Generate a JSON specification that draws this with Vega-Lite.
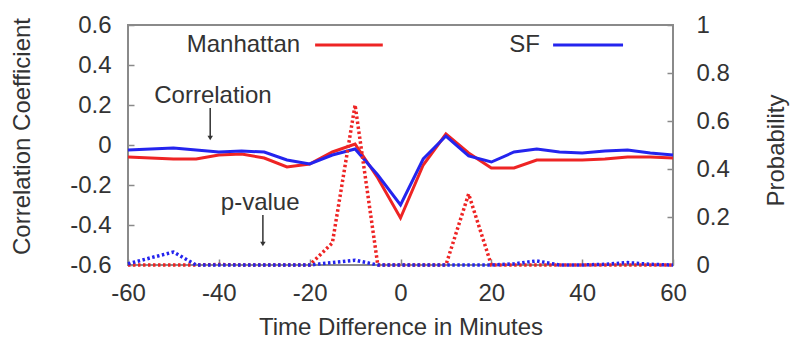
{
  "$schema": "https://vega.github.io/schema/vega-lite/v6.json",
  "width": 545,
  "height": 240,
  "autosize": {"type": "none"},
  "padding": {"left": 128, "top": 25, "right": 120, "bottom": 74},
  "background": "white",
  "config": {
    "view": {"stroke": "#8a8a8a", "strokeWidth": 2},
    "font": "Liberation Sans",
    "text": {"font": "Liberation Sans"},
    "axis": {
      "labelFont": "Liberation Sans",
      "titleFont": "Liberation Sans",
      "labelFontSize": 24,
      "titleFontSize": 24,
      "titleFontWeight": "normal",
      "labelColor": "#333333",
      "titleColor": "#333333",
      "tickColor": "#8a8a8a",
      "tickWidth": 1.5,
      "domain": false,
      "grid": false,
      "labelFlush": false
    }
  },
  "datasets": {
    "corr": [
      {"minute": -60, "city": "Manhattan", "value": -0.06},
      {"minute": -55, "city": "Manhattan", "value": -0.065},
      {"minute": -50, "city": "Manhattan", "value": -0.07},
      {"minute": -45, "city": "Manhattan", "value": -0.07},
      {"minute": -40, "city": "Manhattan", "value": -0.05},
      {"minute": -35, "city": "Manhattan", "value": -0.045},
      {"minute": -30, "city": "Manhattan", "value": -0.065},
      {"minute": -25, "city": "Manhattan", "value": -0.11},
      {"minute": -20, "city": "Manhattan", "value": -0.095},
      {"minute": -15, "city": "Manhattan", "value": -0.035},
      {"minute": -10, "city": "Manhattan", "value": 0.005},
      {"minute": -5, "city": "Manhattan", "value": -0.165},
      {"minute": 0, "city": "Manhattan", "value": -0.365},
      {"minute": 5, "city": "Manhattan", "value": -0.1},
      {"minute": 10, "city": "Manhattan", "value": 0.055},
      {"minute": 15, "city": "Manhattan", "value": -0.04},
      {"minute": 20, "city": "Manhattan", "value": -0.115},
      {"minute": 25, "city": "Manhattan", "value": -0.115},
      {"minute": 30, "city": "Manhattan", "value": -0.075},
      {"minute": 35, "city": "Manhattan", "value": -0.075},
      {"minute": 40, "city": "Manhattan", "value": -0.075},
      {"minute": 45, "city": "Manhattan", "value": -0.07},
      {"minute": 50, "city": "Manhattan", "value": -0.06},
      {"minute": 55, "city": "Manhattan", "value": -0.06},
      {"minute": 60, "city": "Manhattan", "value": -0.065},
      {"minute": -60, "city": "SF", "value": -0.025},
      {"minute": -55, "city": "SF", "value": -0.02},
      {"minute": -50, "city": "SF", "value": -0.015},
      {"minute": -45, "city": "SF", "value": -0.025},
      {"minute": -40, "city": "SF", "value": -0.035},
      {"minute": -35, "city": "SF", "value": -0.03},
      {"minute": -30, "city": "SF", "value": -0.035},
      {"minute": -25, "city": "SF", "value": -0.075},
      {"minute": -20, "city": "SF", "value": -0.095},
      {"minute": -15, "city": "SF", "value": -0.05},
      {"minute": -10, "city": "SF", "value": -0.02},
      {"minute": -5, "city": "SF", "value": -0.15},
      {"minute": 0, "city": "SF", "value": -0.3},
      {"minute": 5, "city": "SF", "value": -0.07},
      {"minute": 10, "city": "SF", "value": 0.045},
      {"minute": 15, "city": "SF", "value": -0.055},
      {"minute": 20, "city": "SF", "value": -0.085},
      {"minute": 25, "city": "SF", "value": -0.035},
      {"minute": 30, "city": "SF", "value": -0.02},
      {"minute": 35, "city": "SF", "value": -0.035},
      {"minute": 40, "city": "SF", "value": -0.04},
      {"minute": 45, "city": "SF", "value": -0.03},
      {"minute": 50, "city": "SF", "value": -0.025},
      {"minute": 55, "city": "SF", "value": -0.04},
      {"minute": 60, "city": "SF", "value": -0.05}
    ],
    "pval": [
      {"minute": -60, "city": "Manhattan", "p": 0},
      {"minute": -55, "city": "Manhattan", "p": 0},
      {"minute": -50, "city": "Manhattan", "p": 0},
      {"minute": -45, "city": "Manhattan", "p": 0},
      {"minute": -40, "city": "Manhattan", "p": 0.002},
      {"minute": -35, "city": "Manhattan", "p": 0},
      {"minute": -30, "city": "Manhattan", "p": 0},
      {"minute": -25, "city": "Manhattan", "p": 0},
      {"minute": -20, "city": "Manhattan", "p": 0},
      {"minute": -15, "city": "Manhattan", "p": 0.092},
      {"minute": -10, "city": "Manhattan", "p": 0.667},
      {"minute": -5, "city": "Manhattan", "p": 0},
      {"minute": 0, "city": "Manhattan", "p": 0},
      {"minute": 5, "city": "Manhattan", "p": 0},
      {"minute": 10, "city": "Manhattan", "p": 0},
      {"minute": 15, "city": "Manhattan", "p": 0.296},
      {"minute": 20, "city": "Manhattan", "p": 0},
      {"minute": 25, "city": "Manhattan", "p": 0},
      {"minute": 30, "city": "Manhattan", "p": 0},
      {"minute": 35, "city": "Manhattan", "p": 0},
      {"minute": 40, "city": "Manhattan", "p": 0},
      {"minute": 45, "city": "Manhattan", "p": 0},
      {"minute": 50, "city": "Manhattan", "p": 0},
      {"minute": 55, "city": "Manhattan", "p": 0},
      {"minute": 60, "city": "Manhattan", "p": 0},
      {"minute": -60, "city": "SF", "p": 0.005},
      {"minute": -55, "city": "SF", "p": 0.03},
      {"minute": -50, "city": "SF", "p": 0.054},
      {"minute": -45, "city": "SF", "p": 0},
      {"minute": -40, "city": "SF", "p": 0},
      {"minute": -35, "city": "SF", "p": 0},
      {"minute": -30, "city": "SF", "p": 0},
      {"minute": -25, "city": "SF", "p": 0},
      {"minute": -20, "city": "SF", "p": 0},
      {"minute": -15, "city": "SF", "p": 0.01},
      {"minute": -10, "city": "SF", "p": 0.02},
      {"minute": -5, "city": "SF", "p": 0},
      {"minute": 0, "city": "SF", "p": 0},
      {"minute": 5, "city": "SF", "p": 0},
      {"minute": 10, "city": "SF", "p": 0},
      {"minute": 15, "city": "SF", "p": 0},
      {"minute": 20, "city": "SF", "p": 0},
      {"minute": 25, "city": "SF", "p": 0.005},
      {"minute": 30, "city": "SF", "p": 0.017},
      {"minute": 35, "city": "SF", "p": 0},
      {"minute": 40, "city": "SF", "p": 0},
      {"minute": 45, "city": "SF", "p": 0.003},
      {"minute": 50, "city": "SF", "p": 0.01},
      {"minute": 55, "city": "SF", "p": 0.003},
      {"minute": 60, "city": "SF", "p": 0}
    ],
    "notes": [
      {"label": "Correlation", "minute": -41.3, "value": 0.245},
      {"label": "p-value", "minute": -30.9, "value": -0.29}
    ],
    "arrows": [
      {"minute": -41.9, "value": 0.185, "value2": 0.04},
      {"minute": -30.3, "value": -0.35, "value2": -0.49}
    ],
    "heads": [
      {"minute": -41.9, "value": 0.035},
      {"minute": -30.3, "value": -0.495}
    ],
    "legendText": [
      {"label": "Manhattan", "minute": -22.1, "value": 0.5},
      {"label": "SF", "minute": 30.7, "value": 0.5}
    ],
    "legendLines": [
      {"city": "Manhattan", "minute": -18.8, "minute2": -3.9, "value": 0.5},
      {"city": "SF", "minute": 33.6, "minute2": 49.0, "value": 0.5}
    ]
  },
  "layer": [
    {
      "data": {"name": "corr"},
      "mark": {"type": "line", "strokeWidth": 3},
      "encoding": {
        "x": {"field": "minute", "type": "quantitative", "scale": {"domain": [-60, 60], "nice": false, "zero": false},
              "axis": {"values": [-60, -40, -20, 0, 20, 40, 60], "title": "Time Difference in Minutes", "tickSize": -6, "labelPadding": 22, "labelOverlap": false, "titleY": 62, "titleBaseline": "middle",
                       "labelExpr": "(datum.value < 0 ? '-' : '') + format(abs(datum.value), 'd')"}},
        "y": {"field": "value", "type": "quantitative", "scale": {"domain": [-0.6, 0.6], "nice": false, "zero": false},
              "axis": {"values": [-0.6, -0.4, -0.2, 0, 0.2, 0.4, 0.6], "title": "Correlation Coefficient", "tickSize": -6, "labelPadding": 23, "labelOverlap": false, "titleAngle": 270, "titleX": -106, "titleY": 111, "titleBaseline": "middle",
                       "labelExpr": "datum.value == 0 ? '0' : (datum.value < 0 ? '-' : '') + format(abs(datum.value), '.1f')"}},
        "color": {"field": "city", "type": "nominal", "scale": {"domain": ["Manhattan", "SF"], "range": ["#ee2424", "#2424ee"]}, "legend": null}
      }
    },
    {
      "data": {"name": "pval"},
      "mark": {"type": "line", "strokeWidth": 3.5, "strokeDash": [2.5, 2.5]},
      "encoding": {
        "x": {"field": "minute", "type": "quantitative"},
        "y": {"field": "p", "type": "quantitative", "scale": {"domain": [0, 1], "nice": false, "zero": false},
              "axis": {"orient": "right", "values": [0, 0.2, 0.4, 0.6, 0.8, 1], "title": "Probability", "tickSize": -6, "labelPadding": 29, "labelOverlap": false, "titleAngle": 270, "titleX": 103, "titleY": 125, "titleBaseline": "middle",
                       "labelExpr": "datum.value == 0 || datum.value == 1 ? format(datum.value, 'd') : format(datum.value, '.1f')"}},
        "color": {"field": "city", "type": "nominal"}
      }
    },
    {
      "data": {"name": "notes"},
      "mark": {"type": "text", "fontSize": 24, "color": "#333333", "align": "center", "baseline": "middle"},
      "encoding": {
        "x": {"field": "minute", "type": "quantitative"},
        "y": {"field": "value", "type": "quantitative", "scale": {"domain": [-0.6, 0.6], "nice": false, "zero": false}, "axis": null},
        "text": {"field": "label"}
      }
    },
    {
      "data": {"name": "arrows"},
      "mark": {"type": "rule", "color": "#333333", "strokeWidth": 1.5},
      "encoding": {
        "x": {"field": "minute", "type": "quantitative"},
        "y": {"field": "value", "type": "quantitative", "scale": {"domain": [-0.6, 0.6], "nice": false, "zero": false}, "axis": null},
        "y2": {"field": "value2"}
      }
    },
    {
      "data": {"name": "heads"},
      "mark": {"type": "point", "shape": "triangle-down", "filled": true, "color": "#333333", "size": 30, "opacity": 1},
      "encoding": {
        "x": {"field": "minute", "type": "quantitative"},
        "y": {"field": "value", "type": "quantitative", "scale": {"domain": [-0.6, 0.6], "nice": false, "zero": false}, "axis": null}
      }
    },
    {
      "data": {"name": "legendText"},
      "mark": {"type": "text", "fontSize": 24, "color": "#333333", "align": "right", "baseline": "middle"},
      "encoding": {
        "x": {"field": "minute", "type": "quantitative"},
        "y": {"field": "value", "type": "quantitative", "scale": {"domain": [-0.6, 0.6], "nice": false, "zero": false}, "axis": null},
        "text": {"field": "label"}
      }
    },
    {
      "data": {"name": "legendLines"},
      "mark": {"type": "rule", "strokeWidth": 3},
      "encoding": {
        "x": {"field": "minute", "type": "quantitative"},
        "x2": {"field": "minute2"},
        "y": {"field": "value", "type": "quantitative", "scale": {"domain": [-0.6, 0.6], "nice": false, "zero": false}, "axis": null},
        "color": {"field": "city", "type": "nominal"}
      }
    }
  ],
  "resolve": {"scale": {"y": "independent"}}
}
